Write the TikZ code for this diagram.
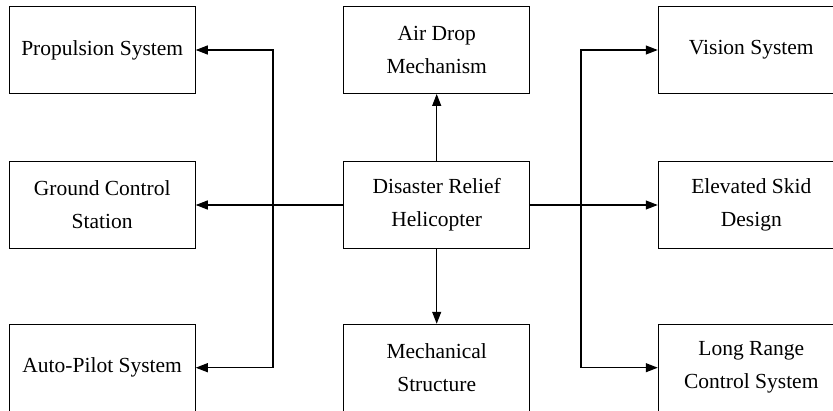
\documentclass[tikz,border=0pt]{standalone}
\usepackage{fontspec}
\setmainfont{Liberation Serif}
\usetikzlibrary{arrows.meta}
\begin{document}
\begin{tikzpicture}[x=1pt,y=-1pt,
  blk/.style={draw=black,line width=1.1pt,minimum width=186pt,minimum height=86.8pt,inner sep=0pt,align=center,font=\fontsize{21.5}{33}\selectfont},
  arr/.style={line width=1.1pt,-{Triangle[length=12pt,width=9pt]}},
  ln/.style={line width=1.1pt}]
\useasboundingbox (0,0) rectangle (833,410);
\begin{scope}
\clip (0,0) rectangle (833,410);
\node[blk] (prop) at (102.2,50) {Propulsion System};
\node[blk] (gcs) at (102.2,205) {Ground Control\\Station};
\node[blk] (ap) at (102.2,367.7) {Auto-Pilot System};
\node[blk] (air) at (436.7,50) {Air Drop\\Mechanism};
\node[blk] (heli) at (436.7,205) {Disaster Relief\\Helicopter};
\node[blk] (mech) at (436.7,367.7) {Mechanical\\Structure};
\node[blk] (vis) at (751.3,50) {Vision System};
\node[blk] (esd) at (751.3,205) {Elevated Skid\\Design};
\node[blk] (lrc) at (751.3,367.7) {Long Range\\Control System};
\coordinate (lj) at (273,205);
\coordinate (rj) at (581,205);
\draw[arr] (heli.west) -- (gcs.east);
\draw[arr] (lj) |- (prop.east);
\draw[arr] (lj) |- (ap.east);
\draw[arr] (heli.east) -- (esd.west);
\draw[arr] (rj) |- (vis.west);
\draw[arr] (rj) |- (lrc.west);
\draw[arr] (heli.north) -- (air.south);
\draw[arr] (heli.south) -- (mech.north);
\end{scope}
\end{tikzpicture}
\end{document}
